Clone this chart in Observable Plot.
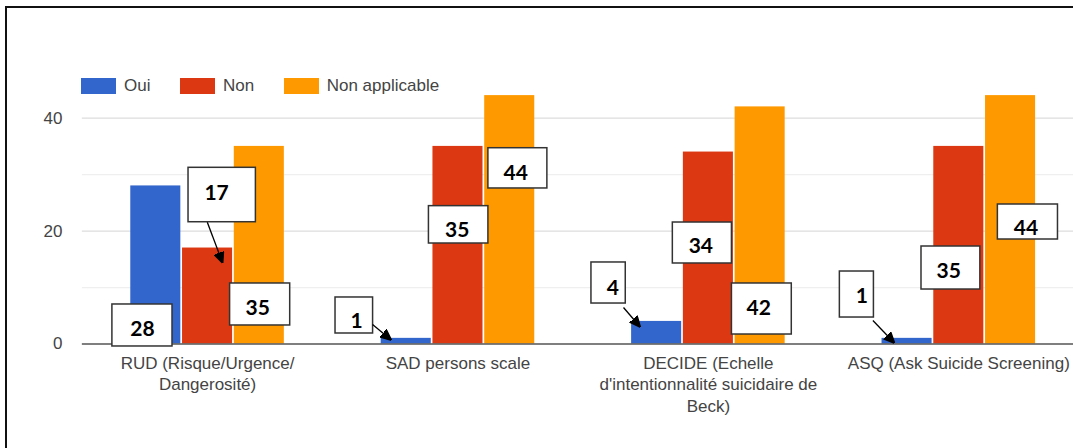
<!DOCTYPE html>
<html><head><meta charset="utf-8">
<script src="https://cdn.jsdelivr.net/npm/d3@7"></script>
<script src="https://cdn.jsdelivr.net/npm/@observablehq/plot@0.6"></script>
<style>
html,body{margin:0;padding:0;background:#fff;}
body{width:1073px;height:448px;overflow:hidden;position:relative;font-family:"Liberation Sans",Arial,sans-serif;}
#frame{position:absolute;left:5px;top:6px;right:-10px;bottom:-10px;border-left:2px solid #111;border-top:2px solid #111;pointer-events:none;}
#legend{position:relative;height:90px;}
#legend .lg-swatches{position:absolute;left:81px;top:78px;margin:0 !important;min-height:0 !important;font-family:"Liberation Sans",Arial,sans-serif !important;font-size:17px !important;color:#444 !important;}
#legend .lg-swatch{margin-right:29.5px !important;line-height:16px;}
#legend .lg-swatch>svg{margin-right:8px !important;}
#chart svg{display:block;}
</style></head>
<body>
<div id="legend"></div>
<div id="chart"></div>
<div id="frame"></div>
<script>
// ---- data ----
const categories = [
  "RUD (Risque/Urgence/Dangerosité)",
  "SAD persons scale",
  "DECIDE (Echelle d'intentionnalité suicidaire de Beck)",
  "ASQ (Ask Suicide Screening)"
];
const tickLabels = [
  "RUD (Risque/Urgence/\nDangerosité)",
  "SAD persons scale",
  "DECIDE (Echelle\nd'intentionnalité suicidaire de\nBeck)",
  "ASQ (Ask Suicide Screening)"
];
const series = ["Oui", "Non", "Non applicable"];
const oui = [28, 1, 4, 1];
const non = [17, 35, 34, 35];
const nonApplicable = [35, 44, 42, 44];
const colors = ["#3366cc", "#dc3912", "#ff9900"];
const yTicks = [0, 20, 40];
const yGridMajor = [20, 40];
const yGridMinor = [10, 30];

// callout boxes: [category, series, box x1, x2, y1, y2, text x, text y] (data units)
const callouts = [
  [0, 0, -0.380, -0.140, -0.44, 7.00, -0.260, 2.57],
  [0, 1, -0.076, 0.193, 21.57, 31.21, 0.036, 26.66],
  [0, 2, 0.090, 0.330, 3.28, 10.72, 0.200, 6.29],
  [1, 0, 0.511, 0.661, 1.86, 8.24, 0.595, 4.07],
  [1, 1, 0.884, 1.1215, 17.80, 24.42, 0.997, 20.11],
  [1, 2, 1.1215, 1.357, 27.55, 34.68, 1.2305, 30.20],
  [2, 0, 1.533, 1.670, 7.17, 14.44, 1.618, 9.83],
  [2, 1, 1.858, 2.094, 14.26, 21.52, 1.970, 17.27],
  [2, 2, 2.094, 2.333, 1.68, 10.72, 2.201, 6.29],
  [3, 0, 2.525, 2.661, 4.69, 12.84, 2.613, 8.41],
  [3, 1, 2.851, 3.086, 9.65, 17.27, 2.960, 12.84],
  [3, 2, 3.156, 3.396, 18.51, 24.71, 3.268, 20.46]
];
// arrows: [category, series, x1, y1, x2, y2] (data units)
const arrows = [
  [0, 1, -0.001, 21.57, 0.059, 14.49],
  [1, 0, 0.659, 3.45, 0.731, 0.80],
  [2, 0, 1.661, 6.47, 1.726, 3.10],
  [3, 0, 2.657, 4.16, 2.741, 0.27]
];

const valuesBySeries = [oui, non, nonApplicable];
const groupWidth = 0.62;
const slot = groupWidth / 3;
const bars = categories.flatMap((c, i) => series.map((s, j) => ({
  category: c, s, v: valuesBySeries[j][i],
  x1: i - groupWidth / 2 + j * slot,
  x2: i - groupWidth / 2 + (j + 1) * slot
})));
const labelData = tickLabels.map((t, i) => ({i, t}));

function triangleMarker(color) {
  const ns = "http://www.w3.org/2000/svg";
  const m = document.createElementNS(ns, "marker");
  m.setAttribute("viewBox", "0 -5 10 10");
  m.setAttribute("refX", "9");
  m.setAttribute("refY", "0");
  m.setAttribute("markerUnits", "userSpaceOnUse");
  m.setAttribute("markerWidth", "11");
  m.setAttribute("markerHeight", "11");
  m.setAttribute("orient", "auto");
  const p = document.createElementNS(ns, "path");
  p.setAttribute("d", "M0,-4.5L10,0L0,4.5Z");
  p.setAttribute("fill", color);
  m.appendChild(p);
  return m;
}

function build(marker) {
  return Plot.plot({
    width: 1073, height: 358,
    marginLeft: 81.85, marginRight: 0, marginTop: 5.1, marginBottom: 104.5,
    x: {domain: [-0.5, 3.458], axis: null},
    y: {domain: [0, 44]},
    color: {domain: series, range: colors},
    style: {fontFamily: '"Liberation Sans", Arial, sans-serif', fontSize: "17px", color: "#444", background: "transparent"},
    marks: [
      Plot.ruleY(yGridMinor, {stroke: "#efefef", strokeWidth: 1.2}),
      Plot.ruleY(yGridMajor, {stroke: "#dddddd", strokeWidth: 1.2}),
      Plot.axisY(yTicks, {tickSize: 0, tickPadding: 19.85, fontSize: 17, color: "#444", label: null}),
      Plot.rect(bars, {x1: "x1", x2: "x2", y1: () => 0, y2: "v", fill: "s", insetLeft: 0.85, insetRight: 0.85}),
      Plot.ruleY([0], {stroke: "#555", strokeWidth: 1.5}),
      Plot.text(labelData, {x: "i", y: () => 0, text: "t", lineAnchor: "top", dy: 9.4, lineHeight: 1.27, fontSize: 17, fill: "#444"}),
      Plot.rect(callouts, {x1: d => d[2], x2: d => d[3], y1: d => d[4], y2: d => d[5], fill: "white", stroke: "#333", strokeWidth: 1.5}),
      Plot.text(callouts, {x: d => d[6], y: d => d[7], text: d => String(valuesBySeries[d[1]][d[0]]), fontWeight: "bold", fontFamily: "Lato, 'Open Sans', sans-serif", fontSize: 21, fill: "#000"}),
      Plot.link(arrows, {x1: d => d[2], y1: d => d[3], x2: d => d[4], y2: d => d[5], stroke: "#000", strokeWidth: 1.3, markerEnd: marker})
    ]
  });
}

let chart;
try { chart = build(triangleMarker); } catch (e) { chart = build("arrow"); }
document.getElementById("chart").appendChild(chart);

const legend = Plot.legend({
  color: {domain: series, range: colors},
  legend: "swatches",
  swatchWidth: 35, swatchHeight: 16,
  className: "lg"
});
document.getElementById("legend").appendChild(legend);
</script>
</body></html>
